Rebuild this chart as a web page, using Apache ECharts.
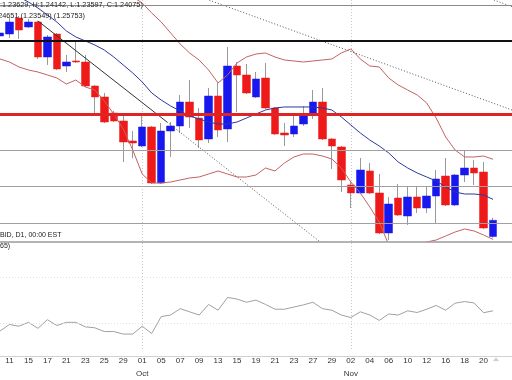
<!DOCTYPE html>
<html><head><meta charset="utf-8">
<script src="https://cdn.jsdelivr.net/npm/echarts@6/dist/echarts.min.js"></script>
<style>html,body{margin:0;padding:0;background:#fff}#c{width:512px;height:380px}</style>
</head><body><div id="c"></div>
<script>
const dates = ['2015-09-10','2015-09-11','2015-09-14','2015-09-15','2015-09-16','2015-09-17','2015-09-18','2015-09-21','2015-09-22','2015-09-23','2015-09-24','2015-09-25','2015-09-28','2015-09-29','2015-09-30','2015-10-01','2015-10-02','2015-10-05','2015-10-06','2015-10-07','2015-10-08','2015-10-09','2015-10-12','2015-10-13','2015-10-14','2015-10-15','2015-10-16','2015-10-19','2015-10-20','2015-10-21','2015-10-22','2015-10-23','2015-10-26','2015-10-27','2015-10-28','2015-10-29','2015-10-30','2015-11-02','2015-11-03','2015-11-04','2015-11-05','2015-11-06','2015-11-09','2015-11-10','2015-11-11','2015-11-12','2015-11-13','2015-11-16','2015-11-17','2015-11-18','2015-11-19','2015-11-20','2015-11-23','2015-11-24','2015-11-25'];
const open  = [1.29143,1.29198,1.29638,1.29391,1.29528,1.28566,1.29198,1.28318,1.28456,1.28428,1.27768,1.27466,1.27026,1.26806,1.26256,1.26118,1.26641,1.25101,1.26531,1.26668,1.27328,1.26888,1.26311,1.27493,1.26586,1.28318,1.28071,1.27466,1.27988,1.27163,1.26476,1.26448,1.26723,1.26971,1.27328,1.26311,1.26091,1.25046,1.24826,1.25431,1.24826,1.23726,1.24688,1.24193,1.24716,1.24413,1.24743,1.25293,1.24496,1.25321,1.25513,1.25403,1.23629];
const close = [1.29226,1.29528,1.29308,1.29528,1.28566,1.29116,1.28236,1.28428,1.28428,1.27768,1.27466,1.26778,1.26806,1.26228,1.26201,1.26641,1.25101,1.26531,1.26668,1.27328,1.26916,1.26283,1.27493,1.26558,1.28318,1.28071,1.27576,1.27961,1.27163,1.26448,1.26421,1.26668,1.26971,1.27328,1.26311,1.26118,1.25183,1.24826,1.25458,1.24826,1.23726,1.24523,1.24221,1.24716,1.24413,1.24743,1.25211,1.24496,1.25321,1.25513,1.25376,1.23863,1.24075];
const low   = [1.29088,1.29088,1.29061,1.29363,1.28511,1.28346,1.28208,1.28153,1.28401,1.27741,1.26971,1.26751,1.26778,1.25678,1.25788,1.26091,1.25073,1.25073,1.25816,1.26476,1.26613,1.26063,1.26201,1.26366,1.26228,1.27053,1.27548,1.27438,1.27136,1.26421,1.26118,1.26366,1.26668,1.26861,1.26283,1.25486,1.24853,1.24413,1.24798,1.24798,1.23698,1.23533,1.24193,1.23946,1.24276,1.24276,1.24001,1.24468,1.24468,1.25128,1.25046,1.23836,1.23597];
const high  = [1.29308,1.29638,1.29693,1.29611,1.29556,1.29171,1.29226,1.28621,1.28978,1.28621,1.27796,1.27576,1.27081,1.26971,1.26531,1.26971,1.26668,1.26751,1.26778,1.27521,1.27933,1.27163,1.27713,1.27851,1.28841,1.28428,1.28373,1.28153,1.28401,1.27191,1.26751,1.26971,1.27218,1.27658,1.27713,1.26338,1.26118,1.25128,1.25788,1.25651,1.25348,1.24716,1.25073,1.24991,1.24991,1.24991,1.25458,1.25788,1.25348,1.26008,1.25733,1.25678,1.24142];
const bandUpper  = [1.30958,1.30958,1.30931,1.30903,1.30876,1.30848,1.30821,1.30793,1.30738,1.30683,1.30601,1.30518,1.30436,1.30326,1.30216,1.30051,1.29776,1.29528,1.29226,1.28923,1.28676,1.28483,1.28208,1.27851,1.28071,1.28401,1.28566,1.28648,1.28676,1.28566,1.28483,1.28456,1.28428,1.28456,1.28483,1.28511,1.28676,1.28786,1.28511,1.28318,1.28291,1.27988,1.27796,1.27658,1.27521,1.27301,1.26888,1.26366,1.26008,1.25816,1.25816,1.25843,1.25753];
const bandMiddle = [1.30546,1.30408,1.30216,1.30078,1.29913,1.29721,1.29528,1.29281,1.29116,1.29006,1.28896,1.28758,1.28566,1.28346,1.28126,1.27878,1.27576,1.27383,1.27218,1.27081,1.26943,1.26861,1.26778,1.26723,1.26723,1.26778,1.26888,1.26998,1.27108,1.27163,1.27191,1.27191,1.27191,1.27191,1.27163,1.27108,1.26916,1.26696,1.26476,1.26283,1.26118,1.25926,1.25678,1.25513,1.25376,1.25266,1.25156,1.24991,1.24853,1.24798,1.24798,1.24771,1.24651];
const bandLower  = [1.28511,1.28428,1.28291,1.28208,1.28153,1.28071,1.27988,1.27823,1.27933,1.27741,1.27658,1.27356,1.26998,1.26586,1.26008,1.25348,1.25101,1.25101,1.25128,1.25183,1.25238,1.25266,1.25348,1.25431,1.25348,1.25266,1.25266,1.25321,1.25513,1.25431,1.25651,1.25816,1.25898,1.25898,1.25843,1.25761,1.25513,1.25128,1.24826,1.24441,1.24028,1.23396,1.23258,1.23258,1.23368,1.23478,1.23533,1.23643,1.23753,1.23836,1.23781,1.23671,1.23549];
const rsi = [23.0,28.7,27.2,30.6,25.3,32.9,27.8,30.6,30.6,26.6,25.8,22.5,22.5,20.3,20.3,27.2,20.8,35.6,37.0,42.6,39.8,37.0,46.3,41.2,52.4,51.0,48.2,50.1,46.3,42.1,42.1,44.0,45.9,48.2,42.6,41.2,37.0,34.8,39.8,37.0,32.3,37.9,37.0,40.7,39.2,42.1,45.4,41.2,47.4,48.8,47.6,39.0,40.7];
const rsiLevels = [30, 70];
const levelPrices = [1.30042, 1.29564, 1.28970, 1.27347, 1.26228, 1.25114, 1.24075, 1.23717];
const trendSolid  = [[4, 1.29556], [17.61, 1.26778]];
const trendDotted = [[17.61, 1.26778], [34, 1.23433]];
const channelA    = [[20, 1.30324], [54, 1.27108]];
const channelB    = [[51.5, 1.30190], [54, 1.29949]];
const titleLine1 = ':1.23629, H:1.24142, L:1.23597, C:1.24075)';
const titleLine2 = '1.24651 (1.23549) (1.25753)';
const footText = 'BID, D1, 00:00 EST';
const subText = '65)';

const MONTHS = {'09':'Sep','10':'Oct','11':'Nov'};
const isMonthStart = i => i > 0 && dates[i].slice(5,7) !== dates[i-1].slice(5,7);
const levelStyles = [
  {color:'#cfcfcf', width:1, type:'solid'},
  {color:'#8a8a8a', width:1, type:'solid'},
  {color:'#111111', width:2, type:'solid'},
  {color:'#de2424', width:3, type:'solid'},
  {color:'#a0a0a0', width:1, type:'solid'},
  {color:'#a0a0a0', width:1, type:'solid'},
  {color:'#c08080', width:1, type:'solid'},
  {color:'#a0a0a0', width:1, type:'solid'}
];
const ohlc = open.map((o,i)=>[o, close[i], low[i], high[i]]);
const bodies = open.map((o,i)=>[o, close[i], Math.min(o,close[i]), Math.max(o,close[i])]);
const FONT = '"Liberation Sans", Arial, sans-serif';
const vSplit = {show:true, interval:(i)=>isMonthStart(i), lineStyle:{color:'#c8c8c8', type:[1,2], width:1}};

const chart = echarts.init(document.getElementById('c'), null, {renderer:'canvas', width:512, height:380});
chart.setOption({
  animation:false,
  backgroundColor:'#ffffff',
  grid:[{left:0,right:0,top:0,height:241},{left:0,right:0,top:243,height:113}],
  xAxis:[
    {type:'category', data:dates, gridIndex:0, boundaryGap:false, axisLine:{show:false}, axisTick:{show:false}, axisLabel:{show:false}, splitLine:vSplit},
    {type:'category', data:dates, gridIndex:1, boundaryGap:false, axisLine:{show:false}, axisTick:{show:false}, splitLine:vSplit,
      axisLabel:{interval:(i)=> i%2===1 && i<=52, margin:3, fontSize:8, lineHeight:13, color:'#333', fontFamily:FONT,
        formatter:(v,i)=>{const d=v.slice(8); return isMonthStart(i) ? d+'\n'+MONTHS[v.slice(5,7)] : d;}}},
    {type:'value', gridIndex:0, min:0, max:54, show:false}
  ],
  yAxis:[
    {type:'value', gridIndex:0, min:1.235055, max:1.30133, show:false},
    {type:'value', gridIndex:1, min:5.43, max:100.19, show:false}
  ],
  series:[
    {type:'line', xAxisIndex:0, yAxisIndex:0, data:bandMiddle.map(()=>null), symbol:'none', lineStyle:{opacity:0}, z:1,
      markLine:{silent:true, symbol:['none','none'], label:{show:false}, animation:false,
        data: levelPrices.map((p,i)=>({yAxis:p, lineStyle:levelStyles[i]}))}},
    {type:'candlestick', xAxisIndex:0, yAxisIndex:0, data:ohlc, barWidth:1, z:2,
      itemStyle:{color:'#999',color0:'#999',borderColor:'#999',borderColor0:'#999',borderWidth:1}},
    {type:'candlestick', xAxisIndex:0, yAxisIndex:0, data:bodies, barWidth:8, z:2,
      itemStyle:{color:'#1818ee',color0:'#ee1a1a',borderColor:'#1818ee',borderColor0:'#ee1a1a',borderWidth:0.5}},
    {type:'line', xAxisIndex:0, yAxisIndex:0, data:bandUpper, symbol:'none', z:3, lineStyle:{color:'#c46262', width:1}},
    {type:'line', xAxisIndex:0, yAxisIndex:0, data:bandLower, symbol:'none', z:3, lineStyle:{color:'#c46262', width:1}},
    {type:'line', xAxisIndex:0, yAxisIndex:0, data:bandMiddle, symbol:'none', z:3, lineStyle:{color:'#2c3a9c', width:1}},
    {type:'line', xAxisIndex:2, yAxisIndex:0, data:trendSolid, symbol:'none', z:3, lineStyle:{color:'#333', width:1}},
    {type:'line', xAxisIndex:2, yAxisIndex:0, data:trendDotted, symbol:'none', z:3, lineStyle:{color:'#555', width:1, type:[1,2]}},
    {type:'line', xAxisIndex:2, yAxisIndex:0, data:channelA, symbol:'none', z:3, lineStyle:{color:'#555', width:1, type:[1,2]}},
    {type:'line', xAxisIndex:2, yAxisIndex:0, data:channelB, symbol:'none', z:3, lineStyle:{color:'#555', width:1, type:[1,2]}},
    {type:'line', xAxisIndex:1, yAxisIndex:1, data:rsi, symbol:'none', lineStyle:{color:'#a0a0a0', width:1},
      markLine:{silent:true, symbol:['none','none'], label:{show:false}, lineStyle:{color:'#e2e2e2', type:[1,2], width:1},
        data: rsiLevels.map(v=>({yAxis:v}))}}
  ],
  graphic:[
    {type:'line', shape:{x1:0,y1:242,x2:512,y2:242}, style:{stroke:'#9a9a9a', lineWidth:1.5}, silent:true},
    {type:'line', shape:{x1:0,y1:356.5,x2:512,y2:356.5}, style:{stroke:'#d0d0d0', lineWidth:1}, silent:true},
    {type:'polygon', shape:{points:[[493,361],[499,361],[496,357.5]]}, style:{fill:'#cccccc'}, silent:true},
    {type:'text', left:0, top:1, style:{text:titleLine1, font:'7.3px '+FONT, fill:'#222'}, silent:true, z:100},
    {type:'text', right:427, top:12, style:{text:titleLine2, font:'7.3px '+FONT, fill:'#222'}, silent:true, z:100},
    {type:'text', left:0, top:232, style:{text:footText, font:'7px '+FONT, fill:'#222'}, silent:true, z:100},
    {type:'text', left:0, top:243, style:{text:subText, font:'7px '+FONT, fill:'#222'}, silent:true, z:100}
  ]
});
</script></body></html>
